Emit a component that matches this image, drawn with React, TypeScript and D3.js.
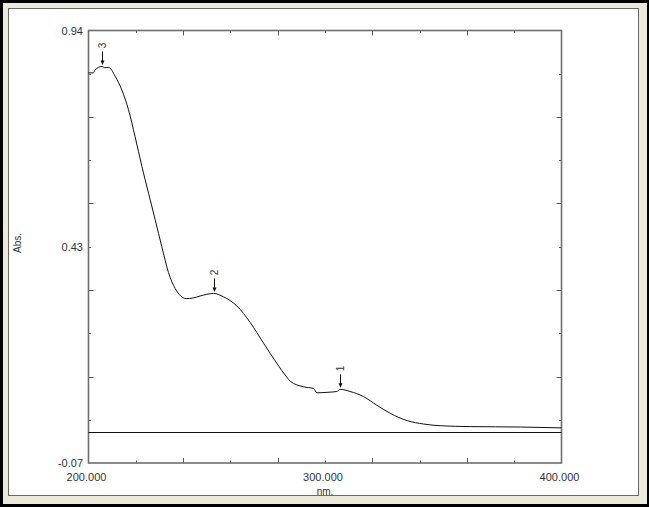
import React, { useEffect, useRef } from 'react';
import * as d3 from 'd3';

// spectrum (wavelength nm, absorbance)
const wavelengths = [200, 202, 202.8, 205.7, 206.9, 208.5, 211.3, 214.1, 216.9, 219.7, 222.6, 225.4, 228.2, 231.0, 233.8, 236.7, 239.0, 241.3, 244.0, 247.2, 252.9, 257.1, 262.7, 268.4, 274.0, 279.6, 283.9, 285.3, 290.9, 295.1, 296.6, 300.8, 305.0, 306.4, 310.6, 316.3, 321.9, 327.6, 334.7, 341.7, 348.7, 361.5, 382.7, 400];
const absorbance = [0.841, 0.841, 0.848, 0.856, 0.853, 0.854, 0.833, 0.801, 0.755, 0.692, 0.622, 0.560, 0.498, 0.435, 0.375, 0.337, 0.320, 0.314, 0.315, 0.320, 0.326, 0.318, 0.297, 0.258, 0.210, 0.163, 0.130, 0.121, 0.108, 0.104, 0.094, 0.095, 0.097, 0.102, 0.097, 0.085, 0.065, 0.046, 0.029, 0.021, 0.017, 0.015, 0.014, 0.012];

const peakLabels = ['3', '2', '1'];
const peakNm = [205.7, 252.9, 306.4];
const peakAbs = [0.856, 0.326, 0.102];

const xDomain = [200, 400];
const yDomain = [-0.07, 0.94];
const xLabelValues = [200, 300, 400];
const xLabelText = ['200.000', '300.000', '400.000'];
const yLabelValues = [0.94, 0.435, -0.07];
const yLabelText = ['0.94', '0.43', '-0.07'];
const baselineValue = 0.003;

const W = 649;
const H = 507;
const plot = { left: 88.5, right: 561.5, top: 30.5, bottom: 463 };
const FONT = "'Liberation Sans', Arial, sans-serif";

const SpectrumChart: React.FC = () => {
  const svgRef = useRef<SVGSVGElement>(null);

  useEffect(() => {
    if (!svgRef.current) return;
    const svg = d3.select(svgRef.current);
    svg.selectAll('*').remove();

    // window frame
    svg.append('rect').attr('x', 0).attr('y', 0).attr('width', W).attr('height', H).attr('fill', '#000');
    svg.append('rect').attr('x', 3).attr('y', 3).attr('width', W - 5).attr('height', H - 6).attr('fill', '#ECE9D8');
    svg.append('rect').attr('x', 8.5).attr('y', 8.5).attr('width', 630).attr('height', 487)
      .attr('fill', '#fff').attr('stroke', '#6a6a6a').attr('stroke-width', 1);

    const x = d3.scaleLinear().domain(xDomain).range([plot.left, plot.right]);
    const y = d3.scaleLinear().domain(yDomain).range([plot.bottom, plot.top]);

    const g = svg.append('g');

    // ticks: 5 major and 10 minor divisions, pointing inward
    const xMajor = d3.range(1, 5).map(i => xDomain[0] + (i * (xDomain[1] - xDomain[0])) / 5);
    const xMinor = d3.range(0, 5).map(i => xDomain[0] + ((i + 0.5) * (xDomain[1] - xDomain[0])) / 5);
    const yMajor = d3.range(1, 5).map(i => yDomain[0] + (i * (yDomain[1] - yDomain[0])) / 5);
    const yMinor = d3.range(0, 5).map(i => yDomain[0] + ((i + 0.5) * (yDomain[1] - yDomain[0])) / 5);

    const tickColor = '#555';
    const drawXTicks = (vals: number[], len: number) => {
      vals.forEach(v => {
        const px = Math.round(x(v)) + 0.5;
        g.append('line').attr('x1', px).attr('x2', px).attr('y1', plot.bottom).attr('y2', plot.bottom - len)
          .attr('stroke', tickColor).attr('stroke-width', 1);
        g.append('line').attr('x1', px).attr('x2', px).attr('y1', plot.top).attr('y2', plot.top + len)
          .attr('stroke', tickColor).attr('stroke-width', 1);
      });
    };
    const drawYTicks = (vals: number[], len: number) => {
      vals.forEach(v => {
        const py = Math.round(y(v)) + 0.5;
        g.append('line').attr('x1', plot.left).attr('x2', plot.left + len).attr('y1', py).attr('y2', py)
          .attr('stroke', tickColor).attr('stroke-width', 1);
        g.append('line').attr('x1', plot.right).attr('x2', plot.right - len).attr('y1', py).attr('y2', py)
          .attr('stroke', tickColor).attr('stroke-width', 1);
      });
    };
    drawXTicks(xMajor, 5);
    drawXTicks(xMinor, 2.5);
    drawYTicks(yMajor, 5);
    drawYTicks(yMinor, 2.5);

    // plot frame
    g.append('rect')
      .attr('x', plot.left).attr('y', plot.top)
      .attr('width', plot.right - plot.left).attr('height', plot.bottom - plot.top)
      .attr('fill', 'none').attr('stroke', '#6e6e6e').attr('stroke-width', 1.6);

    // baseline
    const by = Math.round(y(baselineValue)) + 0.5;
    g.append('line')
      .attr('x1', plot.left).attr('x2', plot.right)
      .attr('y1', by).attr('y2', by)
      .attr('stroke', '#111').attr('stroke-width', 1);

    // spectrum
    const pts: [number, number][] = wavelengths.map((w, i) => [w, absorbance[i]]);
    const line = d3.line<[number, number]>()
      .x(d => x(d[0]))
      .y(d => y(d[1]))
      .curve(d3.curveMonotoneX);
    g.append('path').attr('d', line(pts) as string)
      .attr('fill', 'none').attr('stroke', '#111').attr('stroke-width', 1);

    // peak markers
    peakLabels.forEach((lab, i) => {
      const px = Math.round(x(peakNm[i])) + 0.5;
      const py = y(peakAbs[i]);
      g.append('line').attr('x1', px).attr('x2', px).attr('y1', py - 15).attr('y2', py - 5)
        .attr('stroke', '#111').attr('stroke-width', 1);
      g.append('path')
        .attr('d', `M${px - 2},${py - 6} L${px + 2},${py - 6} L${px},${py - 1.5} Z`)
        .attr('fill', '#111');
      g.append('text')
        .attr('transform', `translate(${px + 3.5},${py - 21}) rotate(-90)`)
        .attr('text-anchor', 'middle')
        .attr('font-family', FONT).attr('font-size', 10).attr('fill', '#333')
        .text(lab);
    });

    // axis labels
    xLabelValues.forEach((v, i) => {
      g.append('text')
        .attr('x', x(v) - 2).attr('y', 481)
        .attr('text-anchor', 'middle')
        .attr('font-family', FONT).attr('font-size', 11).attr('fill', '#333')
        .text(xLabelText[i]);
    });
    yLabelValues.forEach((v, i) => {
      g.append('text')
        .attr('x', 83).attr('y', y(v) + 4)
        .attr('text-anchor', 'end')
        .attr('font-family', FONT).attr('font-size', 11).attr('fill', '#333')
        .text(yLabelText[i]);
    });
    g.append('text')
      .attr('x', 325).attr('y', 495)
      .attr('text-anchor', 'middle')
      .attr('font-family', FONT).attr('font-size', 10).attr('fill', '#333')
      .text('nm.');
    g.append('text')
      .attr('transform', 'translate(21,243) rotate(-90)')
      .attr('text-anchor', 'middle')
      .attr('font-family', FONT).attr('font-size', 10).attr('fill', '#333')
      .text('Abs.');
  }, []);

  return <svg ref={svgRef} width={W} height={H} style={{ display: 'block' }}></svg>;
};

export default function App() {
  return (
    <div style={{ position: 'absolute', left: 0, top: 0 }}>
      <SpectrumChart />
    </div>
  );
}
